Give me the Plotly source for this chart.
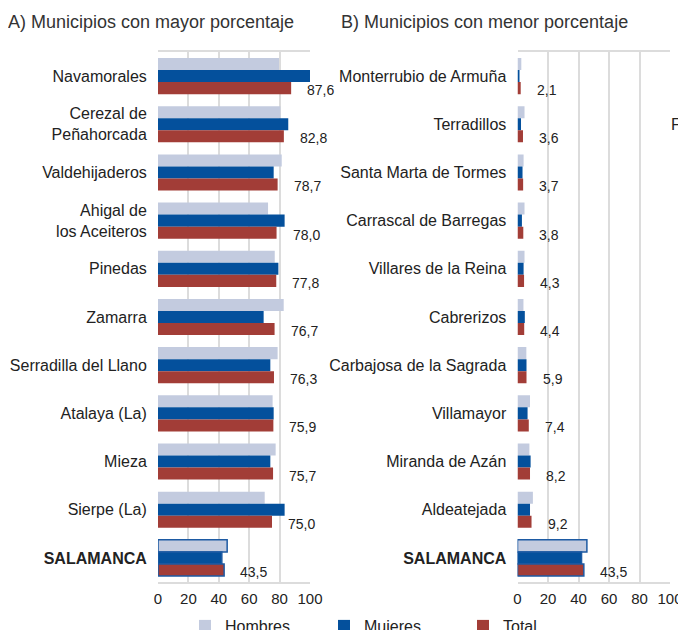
import plotly.graph_objects as go

# A) municipios con mayor porcentaje
izq_municipios = ["Navamorales", "Cerezal de<br>Peñahorcada", "Valdehijaderos",
                  "Ahigal de<br>los Aceiteros", "Pinedas", "Zamarra",
                  "Serradilla del Llano", "Atalaya (La)", "Mieza", "Sierpe (La)",
                  "<b>SALAMANCA</b>"]
izq_hombres = [79.6, 80.5, 81.4, 72.4, 76.8, 82.7, 78.7, 75.4, 77.4, 70.2, 45.5]
izq_mujeres = [100.0, 85.7, 76.1, 83.3, 79.2, 69.5, 73.9, 76.1, 73.9, 83.3, 42.0]
izq_total = [87.6, 82.8, 78.7, 78.0, 77.8, 76.7, 76.3, 75.9, 75.7, 75.0, 43.5]

# B) municipios con menor porcentaje
der_municipios = ["Monterrubio de Armuña", "Terradillos", "Santa Marta de Tormes",
                  "Carrascal de Barregas", "Villares de la Reina", "Cabrerizos",
                  "Carbajosa de la Sagrada", "Villamayor", "Miranda de Azán",
                  "Aldeatejada", "<b>SALAMANCA</b>"]
der_hombres = [2.5, 4.6, 4.0, 4.6, 4.6, 3.9, 5.8, 8.2, 7.8, 10.1, 45.5]
der_mujeres = [1.3, 2.3, 3.3, 2.9, 4.0, 4.8, 5.9, 6.6, 8.6, 8.2, 42.0]
der_total = [2.1, 3.6, 3.7, 3.8, 4.3, 4.4, 5.9, 7.4, 8.2, 9.2, 43.5]

ticks_x = [0, 20, 40, 60, 80, 100]

COL_H = "#c3cbdf"
COL_M = "#04509c"
COL_T = "#a23d37"
BORDE = "#1d5aa3"
ARIAL = "Liberation Sans, Arial, sans-serif"

# la pagina tiene 8px de margen en body: todo se coloca en px de pantalla - 8
OFF = 8
W, H = 686, 640
TOP, BOTTOM = 52 - OFF, 582 - OFF
alto = BOTTOM - TOP


def px_x(p):
    return (p - OFF) / W


def px_y(p):
    return (BOTTOM - (p - OFF)) / alto


def contorno(n):
    return dict(color=["rgba(0,0,0,0)"] * (n - 1) + [BORDE],
                width=[0] * (n - 1) + [1.5])


fig = go.Figure()
series = [("Hombres", COL_H), ("Mujeres", COL_M), ("Total", COL_T)]
for datos, nombres, xa, ya, leyenda in [
        ((izq_hombres, izq_mujeres, izq_total), izq_municipios, "x", "y", True),
        ((der_hombres, der_mujeres, der_total), der_municipios, "x2", "y2", False)]:
    for (nombre, color), valores in zip(series, datos):
        fig.add_trace(go.Bar(
            x=valores, y=nombres, orientation="h", name=nombre,
            marker=dict(color=color, line=contorno(len(valores))),
            xaxis=xa, yaxis=ya, showlegend=leyenda, hoverinfo="x+y"))

anotaciones = []
for nombres, totales, xr, yr in [(izq_municipios, izq_total, "x", "y"),
                                 (der_municipios, der_total, "x2", "y2")]:
    for nom, v in zip(nombres, totales):
        anotaciones.append(dict(
            x=v, y=nom, xref=xr, yref=yr, text=f"{v:.1f}".replace(".", ","),
            showarrow=False, xanchor="left", yanchor="middle",
            xshift=14, yshift=-14, font=dict(family=ARIAL, size=14, color="#222")))

for texto, x0 in [("A) Municipios con mayor porcentaje", 9),
                  ("B) Municipios con menor porcentaje", 342)]:
    anotaciones.append(dict(x=px_x(x0), y=px_y(22), xref="paper", yref="paper",
                            text=texto, showarrow=False, xanchor="left",
                            yanchor="middle", xshift=-3,
                            font=dict(family=ARIAL, size=18, color="#333")))
anotaciones.append(dict(x=px_x(669), y=px_y(125), xref="paper", yref="paper",
                        text="F", showarrow=False, xanchor="left", yanchor="middle",
                        font=dict(family=ARIAL, size=16, color="#222")))

eje_x = dict(range=[0, 100], tickvals=ticks_x, showgrid=True, gridcolor="#dcdcdc",
             gridwidth=1.5, zeroline=False, showline=True, linecolor="#dcdcdc",
             linewidth=1.5, mirror=True, ticks="outside", ticklen=2,
             tickcolor="rgba(0,0,0,0)", fixedrange=True, automargin=False,
             tickfont=dict(family=ARIAL, size=15, color="#222"))
eje_y = dict(autorange="reversed", showgrid=False, ticks="outside", ticklen=7,
             tickcolor="rgba(0,0,0,0)", fixedrange=True, automargin=False,
             tickfont=dict(family=ARIAL, size=16, color="#222"))

fig.update_layout(
    width=W, height=H,
    margin=dict(l=0, r=0, t=TOP, b=H - BOTTOM),
    paper_bgcolor="white", plot_bgcolor="white",
    barmode="group", bargap=0.25, bargroupgap=0,
    xaxis=dict(eje_x, domain=[px_x(158), px_x(310)], anchor="y"),
    yaxis=dict(eje_y, anchor="x"),
    xaxis2=dict(eje_x, domain=[px_x(517.5), px_x(670)], anchor="y2"),
    yaxis2=dict(eje_y, anchor="x2"),
    annotations=anotaciones,
    legend=dict(orientation="h", x=px_x(185), xanchor="left", y=px_y(609),
                yanchor="top", entrywidth=94, traceorder="normal",
                font=dict(family=ARIAL, size=16, color="#222")),
    font=dict(family=ARIAL),
)

fig.write_html("out.html")
